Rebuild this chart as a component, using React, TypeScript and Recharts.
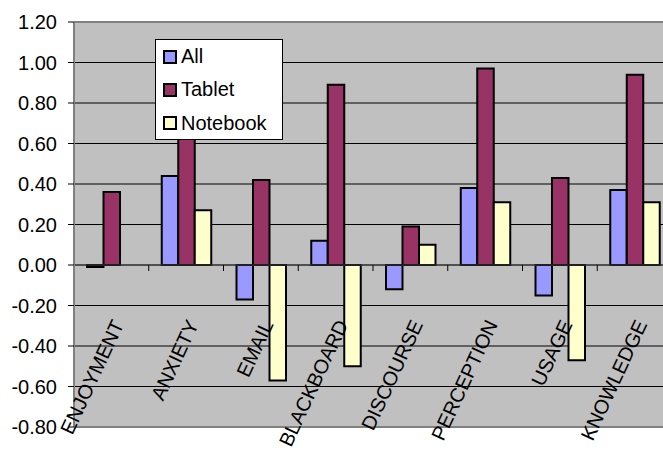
import React from 'react';
import { BarChart, Bar, XAxis, YAxis, CartesianGrid, ReferenceLine } from 'recharts';

// Survey factor differences by device group
const categories = ['ENJOYMENT', 'ANXIETY', 'EMAIL', 'BLACKBOARD', 'DISCOURSE', 'PERCEPTION', 'USAGE', 'KNOWLEDGE'];
const allValues = [-0.01, 0.44, -0.17, 0.12, -0.12, 0.38, -0.15, 0.37];
const tabletValues = [0.36, 0.70, 0.42, 0.89, 0.19, 0.97, 0.43, 0.94];
const notebookValues: (number | null)[] = [null, 0.27, -0.57, -0.5, 0.1, 0.31, -0.47, 0.31];
const yTicks = [-0.8, -0.6, -0.4, -0.2, 0, 0.2, 0.4, 0.6, 0.8, 1.0, 1.2];

const seriesNames = ['All', 'Tablet', 'Notebook'];
const seriesColors = ['#9999FF', '#993366', '#FFFFCC'];

const data = categories.map((name, i) => ({
  name,
  All: allValues[i],
  Tablet: tabletValues[i],
  Notebook: notebookValues[i],
}));

const FONT = '"Liberation Sans", Arial, sans-serif';
const CHART_W = 680;
const CHART_H = 454;
const MARGIN = { top: 22, right: 8, bottom: 0, left: 0 };
const Y_AXIS_W = 74;
const X_AXIS_H = 27;
const PLOT_H = CHART_H - MARGIN.top - MARGIN.bottom - X_AXIS_H;
const PLOT_W = CHART_W - MARGIN.left - MARGIN.right - Y_AXIS_W;
const Y_MIN = yTicks[0];
const Y_MAX = yTicks[yTicks.length - 1];
const ZERO_Y = MARGIN.top + (PLOT_H * Y_MAX) / (Y_MAX - Y_MIN);
const BAND = PLOT_W / categories.length;

const CategoryTick = (props: any) => {
  const { x, payload, index } = props;
  const lx = x;
  const ly = ZERO_Y + 53;
  return (
    <g>
      {index > 0 && (
        <line x1={x - BAND / 2} x2={x - BAND / 2} y1={ZERO_Y} y2={ZERO_Y + 6} stroke="#000" strokeWidth={1} />
      )}
      <text
        x={lx}
        y={ly}
        dy="0.72em"
        textAnchor="end"
        transform={`rotate(-65 ${lx} ${ly})`}
        fontFamily={FONT}
        fontSize={20}
        fill="#000"
      >
        {payload.value}
      </text>
    </g>
  );
};

const LegendBox = () => (
  <div
    style={{
      position: 'absolute',
      left: 155,
      top: 39,
      width: 128,
      height: 101,
      boxSizing: 'border-box',
      border: '1px solid #000',
      background: '#fff',
      paddingTop: 0,
      paddingLeft: 7,
      fontFamily: FONT,
      fontSize: 20,
      color: '#000',
    }}
  >
    {seriesNames.map((n, i) => (
      <div key={n} style={{ display: 'flex', alignItems: 'center', height: 33.3 }}>
        <span
          style={{
            display: 'inline-block',
            width: 14,
            height: 14,
            boxSizing: 'border-box',
            border: '2px solid #000',
            background: seriesColors[i],
            marginRight: 4,
          }}
        />
        <span>{n}</span>
      </div>
    ))}
  </div>
);

export default function App() {
  return (
    <div style={{ position: 'fixed', left: 0, top: 0, width: 663, height: 454, overflow: 'hidden', background: '#fff' }}>
      <BarChart width={CHART_W} height={CHART_H} data={data} margin={MARGIN} barGap={0} barSize={16.5}>
        <CartesianGrid fill="#C0C0C0" stroke="#000" strokeWidth={1} vertical={false} horizontalValues={yTicks} />
        <XAxis
          dataKey="name"
          height={X_AXIS_H}
          axisLine={false}
          tickLine={false}
          interval={0}
          tick={<CategoryTick />}
        />
        <YAxis
          width={Y_AXIS_W}
          domain={[Y_MIN, Y_MAX]}
          ticks={yTicks}
          interval={0}
          tickFormatter={(v: number) => v.toFixed(2)}
          axisLine={{ stroke: '#808080', strokeWidth: 2 }}
          tickLine={{ stroke: '#000' }}
          tickSize={6}
          tickMargin={11}
          tick={{ fontFamily: FONT, fontSize: 20, fill: '#000' }}
        />
        <ReferenceLine y={Y_MAX} stroke="#808080" strokeWidth={2} />
        <ReferenceLine y={Y_MIN} stroke="#808080" strokeWidth={2} />
        <ReferenceLine y={0} stroke="#404040" strokeWidth={1} />
        {seriesNames.map((n, i) => (
          <Bar key={n} dataKey={n} fill={seriesColors[i]} stroke="#000" strokeWidth={2} isAnimationActive={false} />
        ))}
      </BarChart>
      <LegendBox />
    </div>
  );
}
